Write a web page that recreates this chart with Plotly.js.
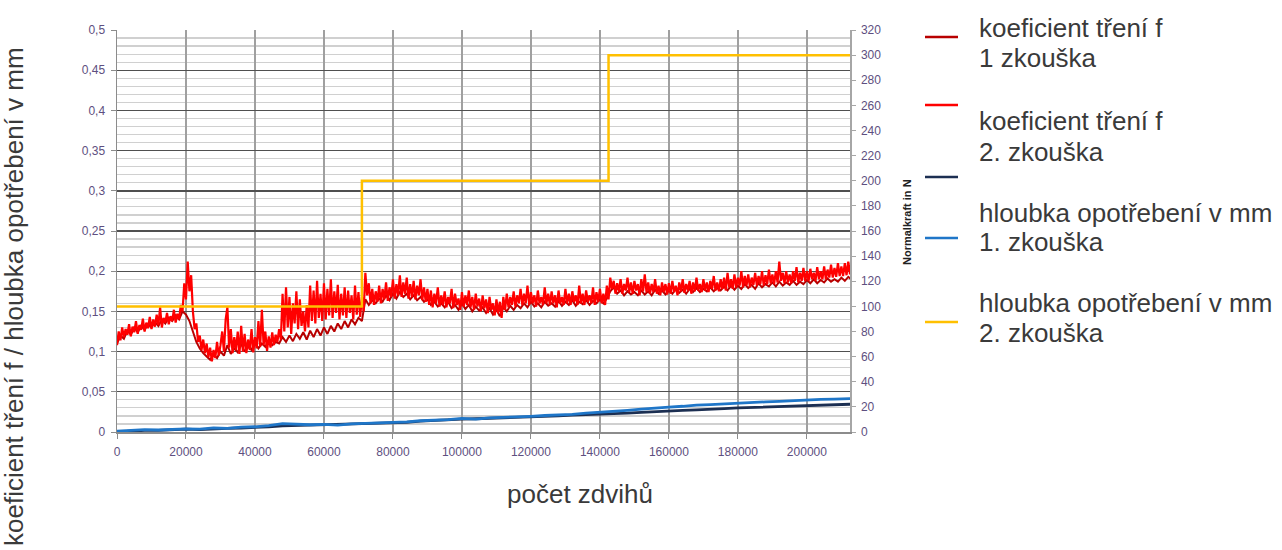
<!DOCTYPE html>
<html>
<head>
<meta charset="utf-8">
<script src="https://cdn.plot.ly/plotly-3.0.1.min.js"></script>
<style>
  html, body { margin: 0; padding: 0; background: #ffffff; }
  #chart { width: 1282px; height: 550px; }
</style>
</head>
<body>
<div id="chart"></div>
<script>
// ---- data ----
// friction coefficient, test 2 (sampled every 500 strokes, 0 .. 216000)
const friction2 = [
  0.108,0.125,0.114,0.130,0.118,0.128,0.121,0.134,0.119,0.131,
  0.124,0.138,0.122,0.133,0.127,0.141,0.125,0.136,0.129,0.143,
  0.128,0.140,0.131,0.146,0.133,0.155,0.130,0.142,0.136,0.148,
  0.134,0.144,0.138,0.152,0.136,0.147,0.140,0.158,0.150,0.185,
  0.165,0.212,0.175,0.195,0.150,0.128,0.135,0.112,0.120,0.102,
  0.115,0.098,0.110,0.093,0.105,0.088,0.102,0.092,0.112,0.095,
  0.108,0.125,0.100,0.140,0.155,0.105,0.128,0.098,0.118,0.102,
  0.125,0.097,0.132,0.100,0.122,0.098,0.115,0.102,0.128,0.099,
  0.118,0.104,0.138,0.106,0.152,0.108,0.125,0.101,0.119,0.105,
  0.124,0.108,0.121,0.112,0.128,0.115,0.172,0.125,0.180,0.130,
  0.168,0.122,0.160,0.135,0.175,0.128,0.165,0.132,0.150,0.125,
  0.158,0.130,0.182,0.138,0.176,0.135,0.188,0.142,0.172,0.138,
  0.185,0.140,0.178,0.145,0.190,0.142,0.175,0.148,0.183,0.140,
  0.172,0.145,0.180,0.142,0.176,0.148,0.170,0.140,0.182,0.146,
  0.174,0.143,0.168,0.150,0.198,0.170,0.185,0.160,0.178,0.158,
  0.175,0.162,0.182,0.160,0.178,0.165,0.186,0.163,0.180,0.168,
  0.190,0.166,0.184,0.170,0.195,0.168,0.186,0.172,0.192,0.166,
  0.184,0.168,0.188,0.165,0.182,0.170,0.190,0.164,0.180,0.162,
  0.178,0.158,0.176,0.155,0.172,0.160,0.180,0.156,0.170,0.158,
  0.175,0.155,0.168,0.160,0.178,0.154,0.172,0.158,0.166,0.152,
  0.174,0.156,0.170,0.158,0.176,0.155,0.168,0.152,0.172,0.156,
  0.166,0.150,0.170,0.154,0.165,0.148,0.168,0.152,0.160,0.145,
  0.165,0.148,0.162,0.142,0.168,0.152,0.172,0.155,0.168,0.158,
  0.175,0.156,0.170,0.160,0.178,0.158,0.172,0.160,0.182,0.158,
  0.174,0.160,0.170,0.156,0.176,0.160,0.168,0.158,0.180,0.160,
  0.172,0.158,0.175,0.160,0.170,0.155,0.176,0.160,0.168,0.158,
  0.178,0.160,0.172,0.158,0.175,0.162,0.170,0.158,0.182,0.160,
  0.172,0.158,0.176,0.162,0.170,0.160,0.180,0.158,0.174,0.162,
  0.178,0.160,0.172,0.158,0.182,0.165,0.192,0.178,0.188,0.172,
  0.185,0.175,0.190,0.172,0.184,0.176,0.192,0.174,0.186,0.172,
  0.188,0.176,0.184,0.170,0.190,0.175,0.196,0.174,0.186,0.172,
  0.184,0.174,0.190,0.172,0.182,0.170,0.186,0.174,0.184,0.171,
  0.185,0.172,0.188,0.174,0.182,0.170,0.186,0.175,0.190,0.173,
  0.184,0.176,0.188,0.172,0.186,0.175,0.192,0.176,0.184,0.174,
  0.190,0.176,0.186,0.174,0.188,0.178,0.194,0.176,0.186,0.175,
  0.190,0.178,0.192,0.176,0.198,0.180,0.190,0.178,0.196,0.180,
  0.192,0.182,0.200,0.180,0.194,0.182,0.196,0.180,0.192,0.183,
  0.198,0.182,0.194,0.184,0.200,0.182,0.195,0.184,0.202,0.185,
  0.196,0.184,0.200,0.186,0.212,0.188,0.198,0.185,0.200,0.186,
  0.196,0.185,0.200,0.188,0.205,0.186,0.198,0.188,0.204,0.188,
  0.200,0.188,0.203,0.190,0.198,0.188,0.205,0.190,0.200,0.190,
  0.206,0.190,0.202,0.192,0.208,0.192,0.204,0.193,0.210,0.194,
  0.206,0.194,0.210,0.195,0.212,0.196,0.215,0.197,0.212,0.198,
  0.218,0.200,0.222
];
const friction2Step = 500;

// friction coefficient, test 1 (sampled every 1000 strokes)
const friction1 = [
  0.110,0.120,0.116,0.126,0.121,0.130,0.124,0.132,0.127,0.134,
  0.130,0.137,0.132,0.140,0.135,0.142,0.138,0.145,0.140,0.150,
  0.146,0.138,0.125,0.112,0.104,0.098,0.094,0.090,0.096,0.092,
  0.100,0.095,0.108,0.097,0.104,0.099,0.110,0.100,0.106,0.102,
  0.112,0.104,0.110,0.106,0.114,0.108,0.112,0.110,0.118,0.112,
  0.120,0.113,0.122,0.116,0.124,0.115,0.126,0.118,0.128,0.120,
  0.130,0.122,0.132,0.125,0.135,0.128,0.138,0.130,0.140,0.134,
  0.142,0.138,0.165,0.158,0.164,0.160,0.166,0.162,0.170,0.164,
  0.172,0.166,0.174,0.168,0.172,0.165,0.170,0.164,0.168,0.162,
  0.165,0.158,0.162,0.156,0.160,0.155,0.162,0.154,0.158,0.152,
  0.160,0.153,0.158,0.150,0.156,0.151,0.155,0.148,0.154,0.146,
  0.152,0.144,0.155,0.150,0.157,0.152,0.158,0.154,0.160,0.155,
  0.162,0.156,0.160,0.155,0.162,0.157,0.160,0.156,0.163,0.157,
  0.162,0.158,0.164,0.157,0.162,0.159,0.164,0.158,0.163,0.160,
  0.165,0.160,0.166,0.175,0.180,0.172,0.176,0.170,0.175,0.171,
  0.174,0.170,0.176,0.171,0.175,0.170,0.177,0.172,0.176,0.171,
  0.176,0.172,0.178,0.173,0.177,0.172,0.178,0.174,0.179,0.174,
  0.178,0.175,0.180,0.175,0.179,0.176,0.181,0.176,0.182,0.177,
  0.182,0.178,0.184,0.179,0.183,0.178,0.185,0.180,0.184,0.181,
  0.186,0.181,0.187,0.182,0.186,0.183,0.188,0.183,0.187,0.184,
  0.189,0.185,0.190,0.185,0.189,0.186,0.191,0.187,0.190,0.187,
  0.192,0.188,0.193,0.189,0.194,0.190,0.196
];
const friction1Step = 1000;

// wear depth in mm (sampled every 4000 strokes)
const wear1 = [
  0.000,0.001,0.002,0.002,0.003,0.0035,0.003,0.004,0.0045,0.005,
  0.0055,0.0065,0.0075,0.008,0.0085,0.009,0.0095,0.010,0.0105,0.011,
  0.0115,0.012,0.0135,0.0145,0.015,0.016,0.0165,0.017,0.018,0.0185,
  0.019,0.0195,0.020,0.021,0.0215,0.022,0.023,0.0235,0.0245,0.0255,
  0.026,0.027,0.0275,0.028,0.029,0.030,0.0305,0.031,0.032,0.0325,
  0.033,0.0335,0.034,0.0345,0.035
];
const wear2 = [
  0.001,0.002,0.003,0.0025,0.0035,0.004,0.0035,0.005,0.0045,0.006,
  0.0065,0.008,0.0105,0.0095,0.009,0.0095,0.0085,0.010,0.0105,0.011,
  0.012,0.0125,0.014,0.0145,0.0155,0.017,0.016,0.0175,0.018,0.019,
  0.0195,0.0205,0.021,0.022,0.0235,0.0245,0.026,0.027,0.0285,0.030,
  0.031,0.032,0.0335,0.034,0.035,0.036,0.0365,0.0375,0.038,0.039,
  0.040,0.0405,0.041,0.0415,0.042
];
const wearStep = 4000;

// normal force in N (right axis)
const forceX = [0, 71000, 71000, 142500, 142500, 216000];
const forceN = [100, 100, 200, 200, 300, 300];

// legend texts
const legendLines = [
  ["koeficient tření f", "1 zkouška"],
  ["koeficient tření f", "2. zkouška"],
  ["hloubka opotřebení v mm", "1. zkouška"],
  ["hloubka opotřebení v mm", "2. zkouška"]
];
const seriesColors = ["#b80000", "#ff0000", "#1c2f52", "#1f76c8", "#ffc000"];

const xTitle = "počet zdvihů";
const yTitle = "koeficient tření f / hloubka opotřebení v mm";
const y2Title = "Normalkraft in N";

// ---- build ----
const xs = (arr, step) => arr.map((_, i) => i * step);

const traces = [
  { x: xs(friction1, friction1Step), y: friction1, type: "scatter", mode: "lines",
    line: { color: seriesColors[0], width: 2 }, name: "koeficient tření f 1 zkouška" },
  { x: xs(friction2, friction2Step), y: friction2, type: "scatter", mode: "lines",
    line: { color: seriesColors[1], width: 2.2 }, name: "koeficient tření f 2. zkouška" },
  { x: xs(wear1, wearStep), y: wear1, type: "scatter", mode: "lines",
    line: { color: seriesColors[2], width: 2.8 }, name: "hloubka opotřebení v mm 1. zkouška" },
  { x: xs(wear2, wearStep), y: wear2, type: "scatter", mode: "lines",
    line: { color: seriesColors[3], width: 2.8 }, name: "hloubka opotřebení v mm 2. zkouška" },
  { x: forceX, y: forceN, type: "scatter", mode: "lines", yaxis: "y2",
    line: { color: seriesColors[4], width: 2.5 }, name: "Normalkraft" }
];

// plot area in pixels: x 117..850, y 30..432
const L = 117, R = 850, T = 30, B = 432;
const px2x = p => (p - L) / (R - L);
const px2y = p => (B - p) / (B - T);

const legendTextY = [[28, 58], [121, 152], [213, 242], [303, 333]];
const legendSwatchY = [37, 105, 177, 238, 322];
const bigFont = { family: "Liberation Sans, Arial, sans-serif", size: 26, color: "#3a3a3a" };

const annotations = [];
legendLines.forEach((pair, i) => {
  pair.forEach((t, j) => {
    annotations.push({
      xref: "paper", yref: "paper", x: px2x(977), y: px2y(legendTextY[i][j]),
      xanchor: "left", yanchor: "middle", showarrow: false, text: t, font: bigFont
    });
  });
});
annotations.push({
  xref: "paper", yref: "paper", x: px2x(14), y: px2y(297), textangle: -90,
  xanchor: "center", yanchor: "middle", showarrow: false, text: yTitle, font: bigFont
});
annotations.push({
  xref: "paper", yref: "paper", x: px2x(580), y: px2y(494),
  xanchor: "center", yanchor: "middle", showarrow: false, text: xTitle, font: bigFont
});
annotations.push({
  xref: "paper", yref: "paper", x: px2x(907), y: px2y(222), textangle: -90,
  xanchor: "center", yanchor: "middle", showarrow: false, text: "<b>" + y2Title + "</b>",
  font: { family: "Liberation Sans, Arial, sans-serif", size: 11, color: "#222222" }
});

const shapes = legendSwatchY.map((py, i) => ({
  type: "line", xref: "paper", yref: "paper",
  x0: px2x(925), x1: px2x(958), y0: px2y(py), y1: px2y(py),
  line: { color: seriesColors[i], width: 2.5 }
}));

const tickFont = { family: "Liberation Sans, Arial, sans-serif", size: 12, color: "#5e4f80" };

const layout = {
  width: 1282, height: 550,
  margin: { l: L, r: 1282 - R, t: T, b: 550 - B, pad: 0 },
  paper_bgcolor: "#ffffff", plot_bgcolor: "#ffffff",
  separators: ",.",
  showlegend: false,
  xaxis: {
    range: [0, 212500], dtick: 20000, tick0: 0, tickformat: "d",
    showgrid: true, gridcolor: "#a0a0a0", gridwidth: 1.5,
    zeroline: false, showline: true, linecolor: "#8c8c8c", linewidth: 1.5,
    ticks: "outside", ticklen: 5, tickcolor: "#8c8c8c", ticklabelstandoff: 3,
    tickfont: tickFont, fixedrange: true
  },
  yaxis: {
    range: [0, 0.5], dtick: 0.05, tick0: 0,
    showgrid: true, gridcolor: "#505050", gridwidth: 1.4,
    minor: { dtick: 0.01, showgrid: true, gridcolor: "#d0d0d0", gridwidth: 1.2, ticks: "" },
    zeroline: false, showline: true, linecolor: "#8c8c8c", linewidth: 1.5,
    ticks: "outside", ticklen: 5, tickcolor: "#8c8c8c", ticklabelstandoff: 3,
    tickfont: tickFont, fixedrange: true
  },
  yaxis2: {
    overlaying: "y", side: "right", range: [0, 320], dtick: 20, tick0: 0,
    showgrid: false, zeroline: false, showline: true, linecolor: "#a6a6a6", linewidth: 1.5,
    ticks: "outside", ticklen: 4, tickcolor: "#a6a6a6", ticklabelstandoff: 3,
    tickfont: tickFont, fixedrange: true
  },
  annotations: annotations,
  shapes: shapes
};

Plotly.newPlot("chart", traces, layout, { displayModeBar: false, staticPlot: true });
</script>
</body>
</html>
